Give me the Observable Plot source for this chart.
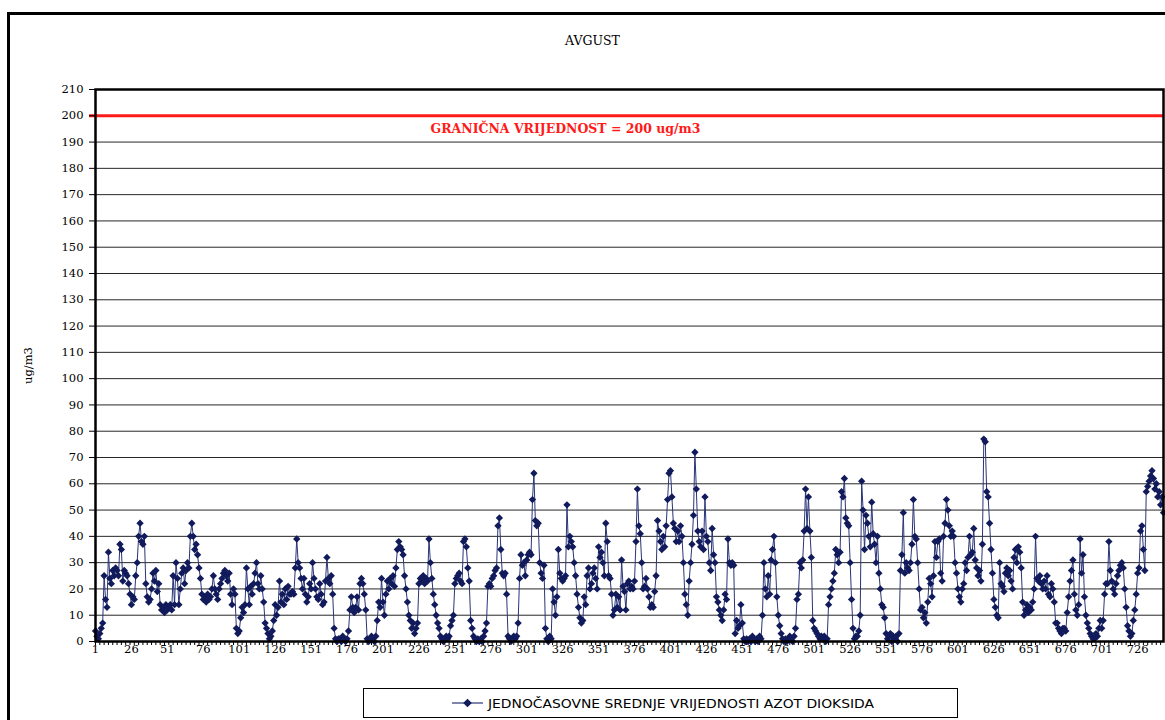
<!DOCTYPE html>
<html>
<head>
<meta charset="utf-8">
<script src="https://cdn.jsdelivr.net/npm/d3@7"></script>
<script src="https://cdn.jsdelivr.net/npm/@observablehq/plot@0.6"></script>
<style>
  body { margin: 0; background: #fff; overflow: hidden; }
  #wrap { position: relative; width: 1165px; height: 720px; overflow: hidden; background: #fff; }
  #border { position: absolute; left: 7px; top: 12px; width: 1200px; height: 800px; border: 3px solid #000; box-sizing: border-box; }
  #title { position: absolute; left: 10px; width: 1165px; top: 33px; text-align: center; font-family: "DejaVu Serif", serif; font-size: 12.5px; color: #000; }
  #chart { position: absolute; left: 0; top: 0; }
  #legend { position: absolute; left: 363px; top: 688px; width: 595px; height: 30px; border: 1px solid #000; box-sizing: border-box; background: #fff; }
</style>
</head>
<body>
<div id="wrap">
  <div id="border"></div>
  <div id="chart"></div>
  <div id="title"></div>
  <div id="legend"></div>
</div>
<script>
// ---- chart texts ----
const titleText = "AVGUST";
const yLabel = "ug/m3";
const seriesName = "JEDNOČASOVNE SREDNJE VRIJEDNOSTI AZOT DIOKSIDA";
const limitValue = 200;
const limitLabel = "GRANIČNA VRIJEDNOST = 200 ug/m3";

// ---- axis ticks ----
const yTicks = [0,10,20,30,40,50,60,70,80,90,100,110,120,130,140,150,160,170,180,190,200,210];
const xTickLabels = [1,26,51,76,101,126,151,176,201,226,251,276,301,326,351,376,401,426,451,476,501,526,551,576,601,626,651,676,701,726];

// ---- hourly NO2 values (ug/m3), August, 744 hours ----
const day01 = [4,2,1,3,5,7,25,16,13,34,24,22,27,25,28,27,25,37,35,23,27,26,25,22];
const day02 = [18,14,17,16,25,30,40,45,38,37,40,22,17,15,16,20,26,23,27,19,22,14,12,13];
const day03 = [11,14,12,13,14,12,25,14,30,24,14,20,26,28,22,27,30,28,40,45,40,35,37,33];
const day04 = [28,24,18,16,17,15,18,16,17,20,25,20,18,16,20,22,24,26,27,25,23,26,18,14];
const day05 = [20,18,5,3,4,9,13,11,14,28,20,14,21,18,22,26,30,22,20,25,20,15,7,5];
const day06 = [3,1,2,4,8,14,10,13,23,15,18,14,20,16,21,18,18,19,18,28,39,30,28,24];
const day07 = [20,24,18,15,17,22,20,30,24,20,17,16,22,18,14,15,23,32,24,22,25,18,5,1];
const day08 = [0,1,1,0,2,1,0,1,4,12,17,13,11,13,17,12,22,24,22,18,12,1,0,1];
const day09 = [2,1,0,2,8,15,13,24,15,10,18,23,20,24,22,25,21,28,35,38,36,35,33,25];
const day10 = [20,15,10,8,5,7,3,5,7,22,24,23,25,22,24,23,39,30,24,18,14,10,7,5];
const day11 = [2,1,0,1,2,1,2,6,8,10,22,24,25,26,23,22,38,39,36,28,23,8,5,2];
const day12 = [1,0,1,0,1,0,2,4,7,21,22,21,24,25,27,28,44,47,35,26,25,26,18,2];
const day13 = [1,0,1,2,1,2,7,24,33,29,30,25,31,33,34,33,54,64,46,44,45,30,26,24];
const day14 = [29,5,1,0,2,1,20,15,10,17,35,26,24,23,24,25,52,36,40,38,36,30,25,18];
const day15 = [13,9,7,8,17,14,25,28,20,22,26,28,24,20,36,32,34,30,25,45,38,25,24,18];
const day16 = [10,12,18,13,17,12,31,21,19,12,22,23,20,21,20,23,38,58,44,41,30,20,21,24];
const day17 = [20,17,13,14,13,19,25,46,42,38,35,40,36,44,54,64,65,55,45,43,38,42,38,44];
const day18 = [40,30,18,14,10,23,30,37,48,72,58,42,38,36,42,35,55,40,38,30,27,43,33,30];
const day19 = [17,15,12,10,8,12,18,16,39,30,29,30,29,3,8,5,6,14,7,1,0,1,0,1];
const day20 = [0,2,1,0,1,0,2,1,10,30,20,17,25,18,31,35,40,30,17,10,6,3,1,0];
const day21 = [1,0,1,2,1,0,2,5,16,18,30,28,31,42,58,43,55,42,32,8,5,4,3,2];
const day22 = [1,2,1,2,0,1,14,17,20,23,26,35,33,30,34,57,55,62,47,45,44,30,16,5];
const day23 = [1,2,2,4,10,61,50,35,48,45,40,36,53,41,37,30,40,26,20,14,13,9,3,1];
const day24 = [2,3,0,2,1,2,0,3,27,33,49,26,30,28,27,30,37,54,40,39,30,20,12,13];
const day25 = [9,11,7,15,24,22,17,25,38,32,38,39,26,23,40,45,54,50,44,40,42,40,30,26];
const day26 = [20,17,15,20,22,30,27,32,40,33,34,43,31,28,25,27,23,37,77,76,57,55,45,35];
const day27 = [26,16,13,10,9,30,22,21,19,26,28,25,27,23,20,32,35,30,36,34,28,15,10,12];
const day28 = [14,11,13,12,15,20,40,24,23,25,22,20,23,20,25,18,17,22,20,15,7,7,5,4];
const day29 = [3,5,5,4,11,17,23,27,31,18,12,10,14,39,26,33,17,10,7,5,3,2,1,1];
const day30 = [3,2,5,8,5,8,18,22,22,38,27,23,20,18,22,25,27,29,30,28,20,13,6,4];
const day31 = [2,3,8,12,18,26,28,42,44,35,27,57,59,61,63,65,62,58,60,55,57,52,55,49];

const values = [].concat(day01,day02,day03,day04,day05,day06,day07,day08,day09,day10,
  day11,day12,day13,day14,day15,day16,day17,day18,day19,day20,
  day21,day22,day23,day24,day25,day26,day27,day28,day29,day30,day31);

const data = values.map((v, i) => ({hour: i + 1, value: v}));
const nHours = values.length;
const minorTicks = d3.range(1, nHours + 1, 3);

const lineColor = "#2a3577";
const dotColor = "#111a5a";

const chart = Plot.plot({
  width: 1165,
  height: 720,
  marginTop: 89,
  marginBottom: 79,
  marginLeft: 95,
  marginRight: 2,
  style: {fontFamily: "'DejaVu Serif', serif", fontSize: "11px", background: "transparent", color: "#000"},
  x: {domain: [1, nHours]},
  y: {domain: [0, 210]},
  marks: [
    Plot.gridY(yTicks.filter(d => d > 0 && d < 210), {stroke: "#000", strokeOpacity: 0.85, strokeWidth: 1}),
    Plot.ruleY([limitValue], {stroke: "#ff1a1a", strokeWidth: 3, insetLeft: -6}),
    Plot.axisY(yTicks, {tickSize: 6, tickPadding: 6, fontSize: 11.5, label: yLabel, labelAnchor: "center", labelArrow: "none", labelOffset: 72}),
    Plot.axisX(minorTicks, {tickSize: 4, text: null, label: null}),
    Plot.axisX(xTickLabels, {tickSize: 0, tickPadding: 3, fontSize: 11.5, label: null}),
    Plot.line(data, {x: "hour", y: "value", stroke: lineColor, strokeWidth: 1}),
    Plot.dot(data, {x: "hour", y: "value", symbol: "diamond2", r: 3.3, fill: dotColor, stroke: "none"}),
    Plot.text([limitLabel], {y: () => limitValue, text: d => d, frameAnchor: "middle", dx: -64, dy: 13, fill: "#ff1a1a", fontWeight: "bold", fontSize: 12.5, fontFamily: "'DejaVu Serif', serif", className: "limit-label"}),
    Plot.frame({stroke: "#000", strokeWidth: 2.5})
  ]
});
document.getElementById("chart").appendChild(chart);
d3.select(chart).selectAll(".limit-label text").attr("textLength", 270).attr("lengthAdjust", "spacingAndGlyphs");
document.getElementById("title").textContent = titleText;

// legend
const lg = d3.select("#legend").append("svg").attr("width", 593).attr("height", 28);
lg.append("line").attr("x1", 88).attr("x2", 119).attr("y1", 14).attr("y2", 14).attr("stroke", lineColor).attr("stroke-width", 1.2);
lg.append("path").attr("d", d3.symbol(d3.symbolDiamond2, 48)()).attr("transform", "translate(103.5,14)").attr("fill", dotColor);
lg.append("text").attr("x", 124).attr("y", 18.5).attr("font-family", "'DejaVu Sans Condensed','Liberation Sans Narrow',sans-serif")
  .attr("font-size", 12.5).attr("textLength", 386).attr("lengthAdjust", "spacingAndGlyphs").text(seriesName);
</script>
</body>
</html>
